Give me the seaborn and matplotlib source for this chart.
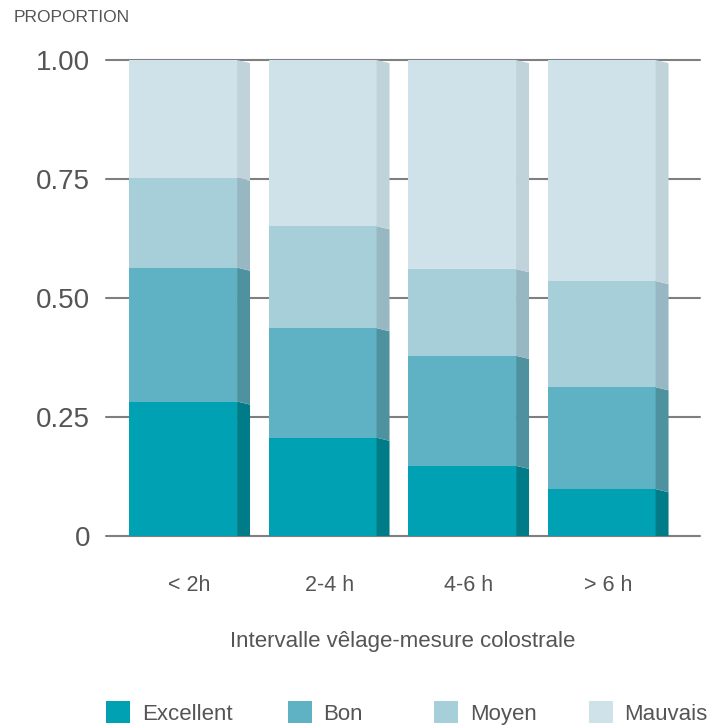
import numpy as np
import pandas as pd
import matplotlib
matplotlib.use("Agg")
import matplotlib.pyplot as plt
from matplotlib.patches import Polygon
from matplotlib.ticker import FixedLocator, FixedFormatter
import seaborn as sns

# ---- data ----
categories = ["< 2h", "2-4 h", "4-6 h", "> 6 h"]
series_names = ["Excellent", "Bon", "Moyen", "Mauvais"]
excellent = [0.283, 0.207, 0.148, 0.099]
bon = [0.281, 0.230, 0.231, 0.214]
moyen = [0.189, 0.214, 0.182, 0.223]
mauvais = [0.247, 0.349, 0.439, 0.464]
y_ticks = [0, 0.25, 0.5, 0.75, 1.0]
y_tick_labels = ["0", "0.25", "0.50", "0.75", "1.00"]

front_colors = ["#00A1B3", "#5EB2C4", "#A7CFDA", "#CFE2E9"]
side_colors = ["#007C88", "#4F929F", "#97B8C2", "#C1D3DA"]
text_color = "#555555"

sns.set_theme(style="white")
plt.rcParams["font.family"] = ["Liberation Sans", "DejaVu Sans"]

values = np.array([excellent, bon, moyen, mauvais])
cum = np.cumsum(values, axis=0)

fig = plt.figure(figsize=(7.26, 7.28), dpi=100)
ax = fig.add_axes([106 / 726, (728 - 536.3) / 728, 594 / 726, 476.3 / 728])

front_w = 0.774
side_w = 0.093
shift = (front_w + side_w) / 2 - front_w / 2  # shift front left so front+side centred

# draw cumulative bars from top series to bottom series
for i in range(len(series_names) - 1, -1, -1):
    df = pd.DataFrame({"cat": categories, "val": cum[i]})
    n_before = len(ax.patches)
    sns.barplot(data=df, x="cat", y="val", color=front_colors[i], width=front_w,
                saturation=1, ax=ax, label=series_names[i], zorder=2,
                linewidth=0, edgecolor="none")
    for p in ax.patches[n_before:]:
        p.set_x(p.get_x() - shift)

# side faces (darker, slightly sheared top)
d = 0.0065
for j in range(len(categories)):
    xs = j - shift + front_w / 2
    xe = xs + side_w
    for i in range(len(series_names)):
        y0 = cum[i - 1][j] if i > 0 else 0.0
        y1 = cum[i][j]
        poly = Polygon([(xs, y0), (xs, y1), (xe, y1 - d), (xe, max(y0 - d, 0.0))],
                       closed=True, facecolor=side_colors[i], edgecolor="none", zorder=2)
        ax.add_patch(poly)

ax.set_xlim(-0.599, 3.659)
ax.set_ylim(0, 1)

# grid
ax.yaxis.set_major_locator(FixedLocator(y_ticks))
ax.yaxis.set_major_formatter(FixedFormatter(y_tick_labels))
ax.grid(axis="y", color="#7F7F7F", linewidth=1.5, zorder=0)
ax.grid(axis="x", visible=False)
ax.set_axisbelow(True)
for gl in ax.get_ygridlines():
    gl.set_clip_on(False)

for s in ax.spines.values():
    s.set_visible(False)

ax.tick_params(axis="y", length=0, pad=11.5, labelsize=20, labelcolor=text_color)
ax.tick_params(axis="x", length=0, pad=28, labelsize=15.5, labelcolor=text_color)
ax.set_ylabel("")
ax.set_xlabel("Intervalle vêlage-mesure colostrale", fontsize=16, color=text_color, va="center")
ax.xaxis.set_label_coords(0.5, -0.22)

fig.text(14 / 726, 1 - 17.5 / 728, "PROPORTION", fontsize=12.5, color=text_color,
         ha="left", va="center")

handles, labels = ax.get_legend_handles_labels()
if ax.get_legend() is not None:
    ax.get_legend().remove()

legend_x = [106, 287.5, 434, 588.5]
for name, lx in zip(series_names, legend_x):
    k = labels.index(name)
    leg = fig.legend([handles[k]], [labels[k]], loc="center left",
                     bbox_to_anchor=(lx / 726, 1 - 713 / 728),
                     frameon=False, fontsize=16, labelcolor=text_color,
                     handlelength=1.1, handleheight=1.08, handletextpad=0.52,
                     borderaxespad=0, borderpad=0)

fig.savefig("out.png", dpi=100)
